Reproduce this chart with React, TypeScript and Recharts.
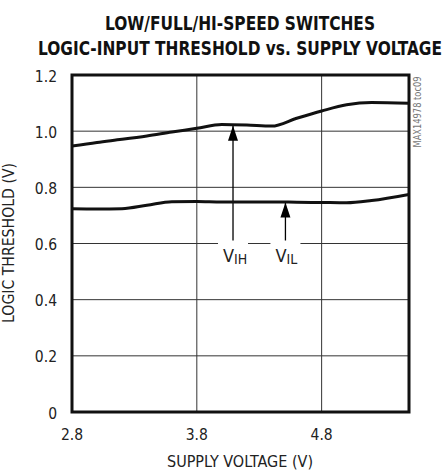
import React from "react";
import {
  LineChart,
  Line,
  XAxis,
  YAxis,
  CartesianGrid,
  ReferenceArea,
  ReferenceLine,
  ReferenceDot,
} from "recharts";

// ---- data ----
const supplyVoltage = [2.8, 3.0, 3.2, 3.4, 3.6, 3.8, 4.0, 4.2, 4.4, 4.6, 4.8, 5.0, 5.2, 5.5];
const vihThreshold = [0.947, 0.96, 0.971, 0.983, 0.997, 1.01, 1.024, 1.022, 1.018, 1.046, 1.072, 1.094, 1.102, 1.099];
const vilThreshold = [0.724, 0.723, 0.724, 0.736, 0.749, 0.75, 0.748, 0.748, 0.748, 0.747, 0.746, 0.745, 0.753, 0.775];

const xTicks = [2.8, 3.8, 4.8];
const yTicks = [0, 0.2, 0.4, 0.6, 0.8, 1.0, 1.2];
const xDomain = [2.8, 5.5];
const yDomain = [0, 1.2];

// annotation arrows: x position, arrow tip value, label base value
const vihArrow = { x: 4.09, tip: 1.019, base: 0.6, main: "V", sub: "IH" };
const vilArrow = { x: 4.51, tip: 0.746, base: 0.6, main: "V", sub: "IL" };

const titleLines = ["LOW/FULL/HI-SPEED SWITCHES", "LOGIC-INPUT THRESHOLD vs. SUPPLY VOLTAGE"];
const xLabel = "SUPPLY VOLTAGE (V)";
const yLabel = "LOGIC THRESHOLD (V)";
const watermark = "MAX14978 toc09";

const data = supplyVoltage.map((v, i) => ({ v, vih: vihThreshold[i], vil: vilThreshold[i] }));

const FONT = "'Liberation Sans Narrow', 'Arial Narrow', 'DejaVu Sans Condensed', sans-serif";
const TEXT = "#222";

const fmtY = (v: number) => (v === 0 ? "0" : v.toFixed(1));

const YTick = (props: any) => {
  const { x, y, payload } = props;
  return (
    <text x={x} y={y + 6.5} textAnchor="end" fontSize={15.5} fontFamily={FONT} fill={TEXT}>
      {fmtY(payload.value)}
    </text>
  );
};

const XTick = (props: any) => {
  const { x, y, payload } = props;
  return (
    <text x={x} y={y + 12} textAnchor="middle" fontSize={15.5} fontFamily={FONT} fill={TEXT}>
      {payload.value.toFixed(1)}
    </text>
  );
};

const ArrowHead = (props: any) => {
  const { cx, cy } = props;
  if (cx == null || cy == null) return null;
  return <path d={`M${cx},${cy} L${cx - 5},${cy + 15} L${cx + 5},${cy + 15} Z`} fill="#000" />;
};

const makeLabel = (main: string, sub: string) => (props: any) => {
  const { cx, cy } = props;
  if (cx == null || cy == null) return null;
  return (
    <g>
      <rect x={cx - 15} y={cy - 3} width={30} height={6} fill="#fff" />
      <text x={cx - 10} y={cy + 18} fontFamily={FONT} fill={TEXT}>
        <tspan fontSize={18}>{main}</tspan>
        <tspan fontSize={14} dy={2}>{sub}</tspan>
      </text>
    </g>
  );
};

const VihLabel = makeLabel(vihArrow.main, vihArrow.sub);
const VilLabel = makeLabel(vilArrow.main, vilArrow.sub);

export default function App() {
  return (
    <div style={{ position: "absolute", left: 0, top: 0, width: 448, height: 470, background: "#fff" }}>
      <LineChart
        width={448}
        height={470}
        data={data}
        margin={{ top: 75, right: 39, bottom: 28, left: 0 }}
      >
        <CartesianGrid stroke="#333" strokeWidth={1} horizontal vertical />
        <XAxis
          dataKey="v"
          type="number"
          domain={xDomain}
          ticks={xTicks}
          axisLine={false}
          tickLine={false}
          tickSize={0}
          tickMargin={16}
          height={30}
          tick={<XTick />}
          interval={0}
          allowDataOverflow
        />
        <YAxis
          type="number"
          domain={yDomain}
          ticks={yTicks}
          axisLine={false}
          tickLine={false}
          tickSize={0}
          tickMargin={15}
          width={72}
          tick={<YTick />}
          interval={0}
          allowDataOverflow
        />
        <ReferenceLine
          segment={[{ x: vihArrow.x, y: vihArrow.base }, { x: vihArrow.x, y: vihArrow.tip }]}
          stroke="#000"
          strokeWidth={1.3}
        />
        <ReferenceLine
          segment={[{ x: vilArrow.x, y: vilArrow.base }, { x: vilArrow.x, y: vilArrow.tip }]}
          stroke="#000"
          strokeWidth={1.3}
        />
        <ReferenceDot x={vihArrow.x} y={vihArrow.tip} shape={ArrowHead} />
        <ReferenceDot x={vilArrow.x} y={vilArrow.tip} shape={ArrowHead} />
        <ReferenceDot x={vihArrow.x} y={vihArrow.base} shape={VihLabel} />
        <ReferenceDot x={vilArrow.x} y={vilArrow.base} shape={VilLabel} />
        <Line
          type="monotone"
          dataKey="vih"
          stroke="#111"
          strokeWidth={3}
          dot={false}
          activeDot={false}
          isAnimationActive={false}
        />
        <Line
          type="monotone"
          dataKey="vil"
          stroke="#111"
          strokeWidth={3}
          dot={false}
          activeDot={false}
          isAnimationActive={false}
        />
        <ReferenceArea
          x1={xDomain[0]}
          x2={xDomain[1]}
          y1={yDomain[0]}
          y2={yDomain[1]}
          fill="none"
          fillOpacity={0}
          stroke="#111"
          strokeWidth={3}
        />
      </LineChart>
      <svg
        width={448}
        height={470}
        style={{ position: "absolute", left: 0, top: 0, pointerEvents: "none" }}
      >
        <text
          x={0}
          y={0}
          transform="translate(240,30) scale(1,1.2)"
          textAnchor="middle"
          fontSize={16.5}
          fontWeight="bold"
          fontFamily={FONT}
          fill="#111"
          textLength={270}
          lengthAdjust="spacingAndGlyphs"
        >
          {titleLines[0]}
        </text>
        <text
          x={0}
          y={0}
          transform="translate(240,55) scale(1,1.2)"
          textAnchor="middle"
          fontSize={16.5}
          fontWeight="bold"
          fontFamily={FONT}
          fill="#111"
          textLength={404}
          lengthAdjust="spacingAndGlyphs"
        >
          {titleLines[1]}
        </text>
        <text x={240} y={467} textAnchor="middle" fontSize={16} fontFamily={FONT} fill={TEXT} textLength={146} lengthAdjust="spacingAndGlyphs">
          {xLabel}
        </text>
        <text
          x={0}
          y={0}
          transform="translate(14,243) rotate(-90)"
          textAnchor="middle"
          fontSize={15}
          fontFamily={FONT}
          fill={TEXT}
          textLength={160}
          lengthAdjust="spacingAndGlyphs"
        >
          {yLabel}
        </text>
        <text
          x={0}
          y={0}
          transform="translate(421,112) rotate(-90)"
          textAnchor="middle"
          fontSize={10}
          fontFamily={FONT}
          fill="#777"
          textLength={71}
          lengthAdjust="spacingAndGlyphs"
        >
          {watermark}
        </text>
      </svg>
    </div>
  );
}
